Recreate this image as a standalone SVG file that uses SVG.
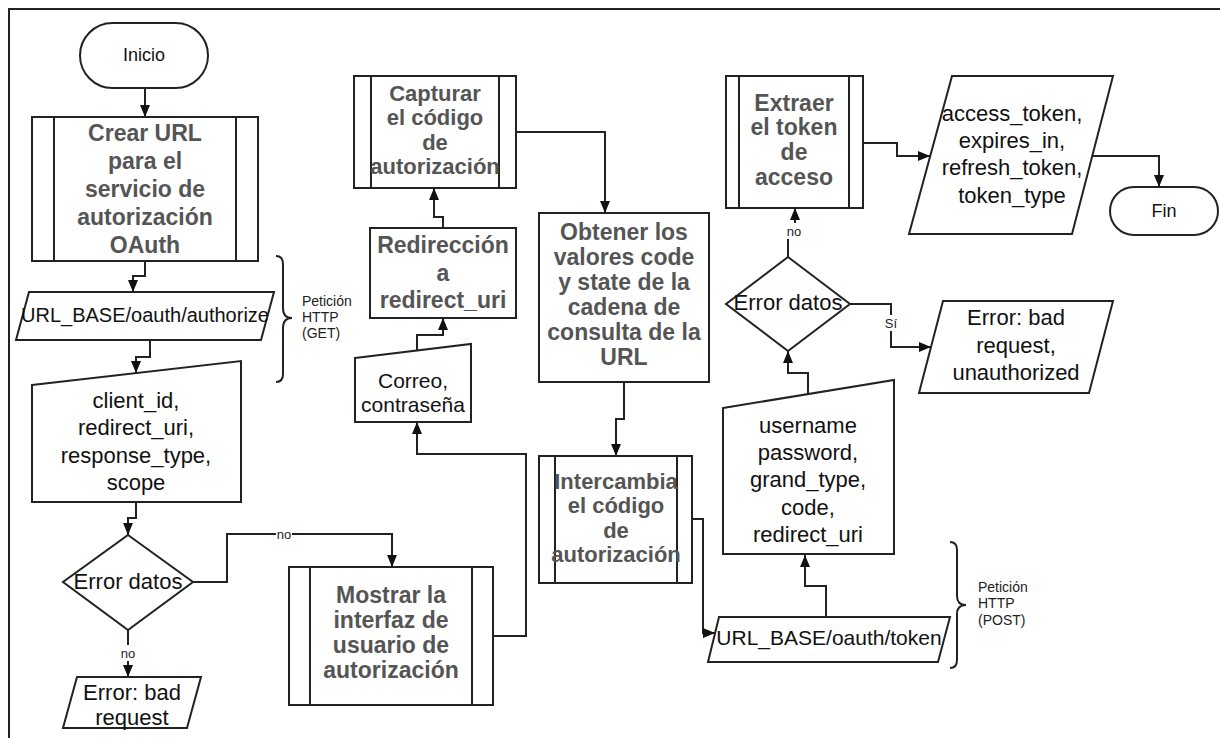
<svg xmlns="http://www.w3.org/2000/svg" width="1220" height="738" viewBox="0 0 1220 738">
<defs>
<marker id="arr" markerUnits="userSpaceOnUse" markerWidth="12" markerHeight="10" refX="12" refY="5" orient="auto">
<path d="M0,0 L12,5 L0,10 z" fill="#111"/>
</marker>
<style>
.s{fill:#fff;stroke:#222;stroke-width:2}
.l{fill:none;stroke:#222;stroke-width:2}
.t{font-family:"Liberation Sans",Arial,sans-serif;font-size:22px;fill:#111;text-anchor:middle;dominant-baseline:central}
.b{font-family:"Liberation Sans",Arial,sans-serif;font-size:23px;font-weight:bold;fill:#555;text-anchor:middle;dominant-baseline:central}
.b2{font-family:"Liberation Sans",Arial,sans-serif;font-size:22px;font-weight:bold;fill:#555;text-anchor:middle;dominant-baseline:central}
.u{font-family:"Liberation Sans",Arial,sans-serif;font-size:20px;fill:#111;text-anchor:middle;dominant-baseline:central}
.n{font-family:"Liberation Sans",Arial,sans-serif;font-size:18px;fill:#111;text-anchor:middle;dominant-baseline:central}
.c{fill:none;stroke:#222;stroke-width:2}
.lb{font-family:"Liberation Sans",Arial,sans-serif;font-size:13px;fill:#222;text-anchor:middle;dominant-baseline:central}
.bt{font-family:"Liberation Sans",Arial,sans-serif;font-size:14px;fill:#222;dominant-baseline:central}
</style>
</defs>
<rect width="1220" height="738" fill="#fff"/>
<path d="M9,738 V9 H1220" class="l"/>

<g id="connectors">
<path class="c" marker-end="url(#arr)" d="M145,88 V117"/>
<path class="c" marker-end="url(#arr)" d="M145,261 V276 H133 V292"/>
<path class="c" marker-end="url(#arr)" d="M150,340 V357 H136 V373"/>
<path class="c" marker-end="url(#arr)" d="M136,502 V518 H128 V535"/>
<path class="c" marker-end="url(#arr)" d="M128,630 V677"/>
<path class="c" marker-end="url(#arr)" d="M193,582 H227 V534 H392 V567"/>
<path class="c" marker-end="url(#arr)" d="M493,636 H526 V454 H417 V422"/>
<path class="c" marker-end="url(#arr)" d="M417,351 V335 H443 V318"/>
<path class="c" marker-end="url(#arr)" d="M443,228 V217 H434 V188"/>
<path class="c" marker-end="url(#arr)" d="M516,132 H605 V213"/>
<path class="c" marker-end="url(#arr)" d="M624,382 V419 H616 V456"/>
<path class="c" marker-end="url(#arr)" d="M692,519 H703 V633 H715"/>
<path class="c" marker-end="url(#arr)" d="M826,617 V586 H805 V555"/>
<path class="c" marker-end="url(#arr)" d="M808,394 V373 H788 V351"/>
<path class="c" marker-end="url(#arr)" d="M850,304 H891 V347 H931"/>
<path class="c" marker-end="url(#arr)" d="M788,257 V232 H795 V208"/>
<path class="c" marker-end="url(#arr)" d="M863,143 H897 V156 H930"/>
<path class="c" marker-end="url(#arr)" d="M1092,156 H1159 V187"/>
<rect x="120" y="645" width="16" height="16" fill="#fff"/>
<text class="lb" x="128" y="653">no</text>
<rect x="276" y="526" width="16" height="16" fill="#fff"/>
<text class="lb" x="284" y="534">no</text>
<rect x="884" y="315" width="14" height="16" fill="#fff"/>
<text class="lb" x="891" y="323">Sí</text>
<rect x="786" y="223" width="16" height="16" fill="#fff"/>
<text class="lb" x="794" y="231">no</text>
</g>

<g id="inicio">
<rect class="s" x="80" y="23" width="128" height="65" rx="32.5"/>
<text class="n" x="144" y="55">Inicio</text>
</g>

<g id="crear">
<rect class="s" x="32" y="117" width="226" height="144"/>
<path class="l" d="M54,117 V261 M236,117 V261"/>
<text class="b" x="145" y="133">Crear URL</text>
<text class="b" x="145" y="161">para el</text>
<text class="b" x="145" y="189">servicio de</text>
<text class="b" x="145" y="217">autorización</text>
<text class="b" x="145" y="245">OAuth</text>
</g>

<g id="urlAuth">
<polygon class="s" points="29,292 274,292 261,340 16,340"/>
<text class="u" x="145" y="315">URL_BASE/oauth/authorize</text>
</g>

<g id="braceGet">
<path class="l" stroke-width="1.5" d="M276,256 Q283,256 283,264 V308 Q283,318 292,318 Q283,318 283,328 V374 Q283,382 276,382"/>
<text class="bt" x="302" y="301">Petición</text>
<text class="bt" x="302" y="317">HTTP</text>
<text class="bt" x="302" y="333">(GET)</text>
</g>

<g id="client">
<polygon class="s" points="32,385 241,361 241,502 32,502"/>
<text class="t" x="136" y="400">client_id,</text>
<text class="t" x="136" y="427">redirect_uri,</text>
<text class="t" x="136" y="455">response_type,</text>
<text class="t" x="136" y="482">scope</text>
</g>

<g id="decision1">
<polygon class="s" points="128,535 193,582 128,630 63,582"/>
<text class="t" x="128" y="581">Error datos</text>
</g>

<g id="error1">
<polygon class="s" points="77,677 201,677 187,728 63,728"/>
<text class="t" x="132" y="692">Error: bad</text>
<text class="t" x="132" y="717">request</text>
</g>

<g id="mostrar">
<rect class="s" x="289" y="567" width="204" height="138"/>
<path class="l" d="M310,567 V705 M472,567 V705"/>
<text class="b" x="391" y="595">Mostrar la</text>
<text class="b" x="391" y="620">interfaz de</text>
<text class="b" x="391" y="645">usuario de</text>
<text class="b" x="391" y="670">autorización</text>
</g>

<g id="correo">
<polygon class="s" points="355,358 471,344 471,422 355,422"/>
<text class="t" x="413" y="380" style="font-size:21px">Correo,</text>
<text class="t" x="413" y="404" style="font-size:21px">contraseña</text>
</g>

<g id="redireccion">
<rect class="s" x="370" y="228" width="146" height="90"/>
<text class="b" x="443" y="245">Redirección</text>
<text class="b" x="443" y="273">a</text>
<text class="b" x="443" y="300">redirect_uri</text>
</g>

<g id="capturar">
<rect class="s" x="354" y="76" width="162" height="112"/>
<path class="l" d="M371,76 V188 M499,76 V188"/>
<text class="b2" x="435" y="93">Capturar</text>
<text class="b2" x="435" y="117.5">el código</text>
<text class="b2" x="435" y="142">de</text>
<text class="b2" x="435" y="166.5">autorización</text>
</g>

<g id="obtener">
<rect class="s" x="539" y="213" width="170" height="169"/>
<text class="b" x="624" y="232">Obtener los</text>
<text class="b" x="624" y="257">valores code</text>
<text class="b" x="624" y="282">y state de la</text>
<text class="b" x="624" y="307">cadena de</text>
<text class="b" x="624" y="332">consulta de la</text>
<text class="b" x="624" y="357">URL</text>
</g>

<g id="intercambia">
<rect class="s" x="539" y="456" width="153" height="127"/>
<path class="l" d="M555,456 V583 M677,456 V583"/>
<text class="b2" x="616" y="481">Intercambia</text>
<text class="b2" x="616" y="505.5">el código</text>
<text class="b2" x="616" y="530">de</text>
<text class="b2" x="616" y="554.5">autorización</text>
</g>

<g id="urlToken">
<polygon class="s" points="719,617 950,617 938,662 708,662"/>
<text class="u" x="829" y="637" style="font-size:21px">URL_BASE/oauth/token</text>
</g>

<g id="bracePost">
<path class="l" stroke-width="1.5" d="M950,542 Q957,542 957,550 V596 Q957,605 966,605 Q957,605 957,614 V660 Q957,668 950,668"/>
<text class="bt" x="978" y="587">Petición</text>
<text class="bt" x="978" y="603">HTTP</text>
<text class="bt" x="978" y="620">(POST)</text>
</g>

<g id="username">
<polygon class="s" points="723,408 894,380 894,554 723,554"/>
<text class="t" x="808" y="425">username</text>
<text class="t" x="808" y="452">password,</text>
<text class="t" x="808" y="479">grand_type,</text>
<text class="t" x="808" y="507">code,</text>
<text class="t" x="808" y="534">redirect_uri</text>
</g>

<g id="decision2">
<polygon class="s" points="788,257 850,304 788,351 726,304"/>
<text class="t" x="788" y="302">Error datos</text>
</g>

<g id="error2">
<polygon class="s" points="943,301 1113,301 1089,393 919,393"/>
<text class="t" x="1016" y="317">Error: bad</text>
<text class="t" x="1016" y="345">request,</text>
<text class="t" x="1016" y="372">unauthorized</text>
</g>

<g id="extraer">
<rect class="s" x="726" y="76" width="137" height="132"/>
<path class="l" d="M739,76 V208 M849,76 V208"/>
<text class="b" x="794" y="103">Extraer</text>
<text class="b" x="794" y="127">el token</text>
<text class="b" x="794" y="152">de</text>
<text class="b" x="794" y="177">acceso</text>
</g>

<g id="tokens">
<polygon class="s" points="952,76 1113,76 1072,234 909,234"/>
<text class="t" x="1012" y="113">access_token,</text>
<text class="t" x="1012" y="140">expires_in,</text>
<text class="t" x="1012" y="167">refresh_token,</text>
<text class="t" x="1012" y="195">token_type</text>
</g>

<g id="fin">
<rect class="s" x="1110" y="187" width="108" height="48" rx="24"/>
<text class="n" x="1164" y="211">Fin</text>
</g>
</svg>
